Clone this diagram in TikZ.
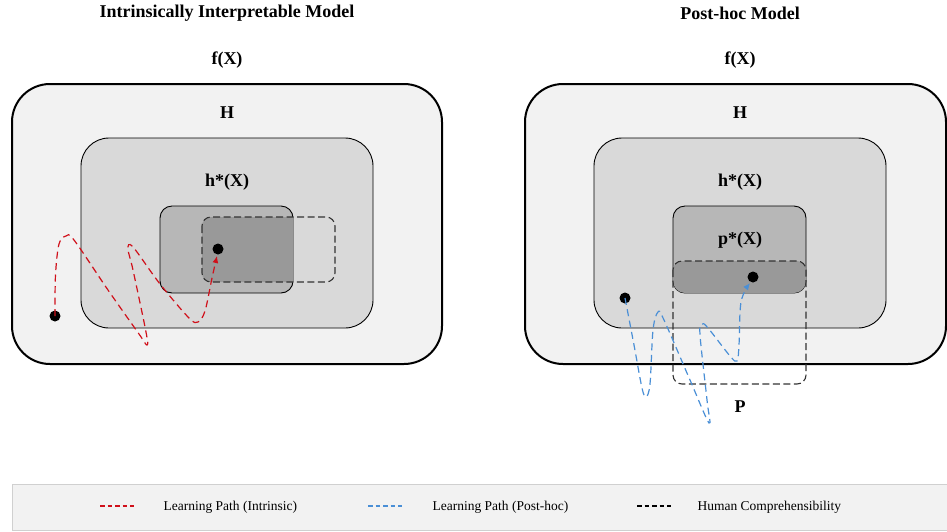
\documentclass[tikz,border=0pt]{standalone}
\usepackage{fontspec}
\setmainfont{Liberation Serif}
\usetikzlibrary{arrows.meta}
\definecolor{outerfill}{HTML}{F2F2F2}
\definecolor{hfill}{HTML}{D9D9D9}
\definecolor{hstarfill}{HTML}{B7B7B7}
\definecolor{interfill}{HTML}{999999}
\definecolor{redpath}{HTML}{D0101A}
\definecolor{bluepath}{HTML}{4A8FD6}
\definecolor{legendborder}{HTML}{D0D0D0}
\begin{document}
\begin{tikzpicture}[x=1pt,y=-1pt,
  outerbox/.style={draw=black,line width=2pt,fill=outerfill,rounded corners=38pt},
  hbox/.style={draw=black,line width=0.9pt,fill=hfill,rounded corners=28pt},
  starbox/.style={draw=black,line width=0.9pt,fill=hstarfill,rounded corners=12pt},
  compbox/.style={draw=black!80,line width=1.1pt,dash pattern=on 7pt off 3.5pt,rounded corners=9pt},
  title/.style={font=\bfseries\fontsize{18}{21}\selectfont},
  lab/.style={font=\bfseries\fontsize{18}{21}\selectfont},
  dot/.style={circle,fill=black,inner sep=0pt,minimum size=11pt},
  redlp/.style={draw=redpath,line width=1.2pt,dash pattern=on 7pt off 4.5pt,-{Latex[length=7pt,width=6pt]}},
  bluelp/.style={draw=bluepath,line width=1.2pt,dash pattern=on 7pt off 4.5pt,-{Latex[length=7pt,width=6pt]}},
  legtext/.style={font=\fontsize{13.5}{15}\selectfont,anchor=west},
  legline/.style={line width=1.1pt,dash pattern=on 4.5pt off 3pt}]
\useasboundingbox (0,0) rectangle (947,531);
\clip (0,0) rectangle (947,531);

% ---------- Left panel ----------
\node[title] (t1) at (227,13) {Intrinsically Interpretable Model};
\node[lab] (f1) at (227,60) {f(X)};
\draw[outerbox] (12,84) rectangle (442,364);
\node[lab] (H1) at (227,113) {H};
\draw[hbox] (81,138) rectangle (373,328);
\node[lab] (hs1) at (227,182) {h*(X)};
\draw[starbox] (160,206) rectangle (293,293);
\begin{scope}
  \clip[rounded corners=12pt] (160,206) rectangle (293,293);
  \fill[interfill,rounded corners=9pt] (202,217) rectangle (335,282);
\end{scope}
\draw[compbox] (202,217) rectangle (335,282);
\node[dot] (g1) at (218,249) {};
\node[dot] (s1) at (55,316) {};
\coordinate (e1) at (217,256);
\draw[redlp] plot[smooth,tension=0.55] coordinates {(s1) (55.5,275) (59,244) (66,236) (74,240) (108,290) (139,334) (147,345) (146,332) (133,270) (128,249) (133,247) (160,284) (189,318) (198,322) (205,311) (212,278) (e1)};

% ---------- Right panel ----------
\node[title] (t2) at (740,13) {Post-hoc Model};
\node[lab] (f2) at (740,60) {f(X)};
\draw[outerbox] (525,84) rectangle (946,364);
\node[lab] (H2) at (740,113) {H};
\draw[hbox] (594,138) rectangle (886,328);
\node[lab] (hs2) at (740,182) {h*(X)};
\draw[starbox] (673,206) rectangle (806,293);
\node[lab] (ps2) at (740,240) {p*(X)};
\begin{scope}
  \clip[rounded corners=12pt] (673,206) rectangle (806,293);
  \fill[interfill,rounded corners=9pt] (673,261) rectangle (806,384);
\end{scope}
\draw[compbox] (673,261) rectangle (806,384);
\node[lab] (P2) at (740,407) {P};
\node[dot] (g2) at (753,277) {};
\node[dot] (s2) at (625,298) {};
\coordinate (e2) at (750,283);
\draw[bluelp] plot[smooth,tension=0.55] coordinates {(s2) (634,345) (642,388) (646,397) (650,384) (653,330) (658,312) (664,320) (690,380) (709,423) (707,400) (700,335) (702,324) (708,328) (730,356) (737,361) (739,345) (741,302) (e2)};

% ---------- Legend ----------
\draw[draw=legendborder,line width=0.8pt,fill=outerfill] (12,484) rectangle (960,530);
\coordinate (la) at (100,506);
\coordinate (lb) at (134,506);
\draw[legline,draw=redpath] (la) -- (lb);
\node[legtext] (lt1) at (160,507) {Learning Path (Intrinsic)};
\coordinate (lc) at (368,506);
\coordinate (ld) at (402,506);
\draw[legline,draw=bluepath] (lc) -- (ld);
\node[legtext] (lt2) at (429,507) {Learning Path (Post-hoc)};
\coordinate (le) at (637,506);
\coordinate (lf) at (671,506);
\draw[legline,draw=black] (le) -- (lf);
\node[legtext] (lt3) at (694,507) {Human Comprehensibility};
\end{tikzpicture}
\end{document}
